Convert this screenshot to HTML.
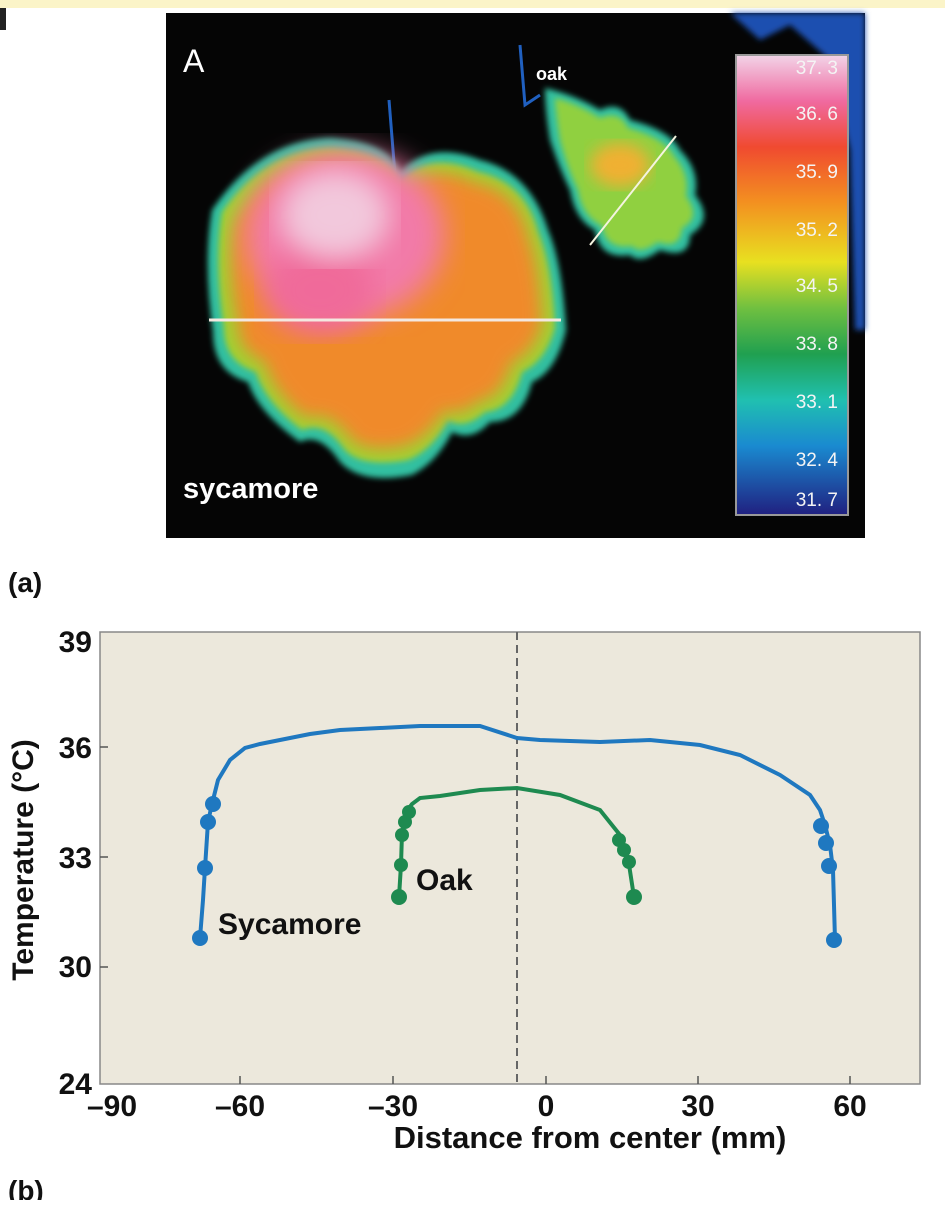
<!DOCTYPE html>
<html><head><style>
body{margin:0;width:945px;height:1200px;background:#fff;overflow:hidden;font-family:"Liberation Sans",Arial,sans-serif;}
</style></head><body>
<svg width="945" height="1200" viewBox="0 0 945 1200" xmlns="http://www.w3.org/2000/svg">
<defs>
<filter id="b3"><feGaussianBlur stdDeviation="3"/></filter>
<filter id="b8"><feGaussianBlur stdDeviation="8"/></filter>
<filter id="b14"><feGaussianBlur stdDeviation="14"/></filter>
<linearGradient id="cb" x1="0" y1="0" x2="0" y2="1">
<stop offset="0" stop-color="#f2d4e8"/><stop offset="0.1" stop-color="#f06aa0"/><stop offset="0.2" stop-color="#f04a30"/>
<stop offset="0.32" stop-color="#f39020"/><stop offset="0.45" stop-color="#e8e020"/><stop offset="0.55" stop-color="#70c040"/>
<stop offset="0.65" stop-color="#20a050"/><stop offset="0.75" stop-color="#20c0b0"/><stop offset="0.85" stop-color="#1a8ad0"/>
<stop offset="1" stop-color="#202080"/></linearGradient>
</defs>
<rect x="0" y="0" width="945" height="8" fill="#fbf4c8"/>
<rect x="0" y="8" width="6" height="22" fill="#222"/>
<rect x="166" y="13" width="699" height="525" fill="#050505"/>
<path d="M865 13 L730 13 L760 40 L790 25 L830 60 L850 150 L855 330 L865 330Z" fill="#1a50b0" filter="url(#b3)"/>
<line x1="389" y1="100" x2="395" y2="175" stroke="#2060c0" stroke-width="3"/>
<path d="M520 45 L525 105 L540 95" stroke="#2060c0" stroke-width="3" fill="none"/>
<g>
<path d="M212 210 Q260 140 330 138 Q390 142 400 172 Q430 140 480 160 Q530 172 548 230 Q562 262 566 330 Q556 372 532 382 Q522 422 490 422 Q472 442 452 432 Q437 462 412 475 Q362 485 340 462 Q320 432 300 442 Q258 412 248 382 Q213 372 213 332 Q203 262 212 210Z" fill="#30c0a0" filter="url(#b3)"/>
<path d="M222 212 Q265 150 330 148 Q390 152 400 182 Q430 150 478 172 Q525 182 538 232 Q552 265 555 328 Q545 362 522 372 Q512 410 485 412 Q465 430 448 420 Q432 450 408 460 Q362 468 345 450 Q325 420 302 430 Q265 402 256 372 Q224 362 224 328 Q214 262 222 212Z" fill="#a0d030" filter="url(#b3)"/>
<path d="M235 222 Q270 160 330 158 Q390 162 400 192 Q430 160 474 182 Q518 190 528 236 Q540 268 542 325 Q532 355 512 362 Q500 400 480 400 Q460 418 445 410 Q428 438 405 446 Q365 454 350 438 Q330 410 306 418 Q272 392 265 362 Q238 352 238 325 Q226 264 235 222Z" fill="#f08a2a" filter="url(#b8)"/>
<ellipse cx="345" cy="235" rx="100" ry="85" fill="#f27aa8" filter="url(#b14)"/>
<ellipse cx="320" cy="290" rx="55" ry="45" fill="#f06a9a" filter="url(#b14)"/>
<ellipse cx="335" cy="215" rx="55" ry="45" fill="#f2c8dc" filter="url(#b14)"/>
</g>
<g>
<path d="M545 88 Q575 95 600 110 Q620 100 630 120 Q670 130 680 150 Q700 170 695 195 Q715 220 690 235 Q690 260 660 250 Q640 265 630 255 Q600 260 595 230 Q575 220 570 190 Q560 170 550 140 Q545 110 545 88Z" fill="#30c0a0" filter="url(#b3)"/>
<path d="M555 98 Q578 104 600 118 Q620 110 628 128 Q665 138 674 156 Q690 174 686 196 Q702 218 682 228 Q680 250 658 242 Q640 255 632 246 Q606 250 602 226 Q582 216 578 190 Q568 170 560 140 Q556 115 555 98Z" fill="#90d040" filter="url(#b3)"/>
<ellipse cx="620" cy="165" rx="30" ry="22" fill="#f0b030" filter="url(#b8)"/>
</g>
<line x1="209" y1="320" x2="561" y2="320" stroke="#f4e8e0" stroke-width="3"/>
<line x1="590" y1="245" x2="676" y2="136" stroke="#f4f4e0" stroke-width="2"/>
<text x="183" y="72" fill="#fff" font-size="32">A</text>
<text x="536" y="80" fill="#fff" font-size="18" font-weight="bold">oak</text>
<text x="183" y="498" fill="#fff" font-size="29" font-weight="bold">sycamore</text>
<rect x="736" y="55" width="112" height="460" fill="url(#cb)" stroke="#999" stroke-width="2"/>
<g fill="#f4f4f4" font-size="19" text-anchor="end">
<text x="838" y="74">37. 3</text><text x="838" y="120">36. 6</text><text x="838" y="178">35. 9</text>
<text x="838" y="236">35. 2</text><text x="838" y="292">34. 5</text><text x="838" y="350">33. 8</text>
<text x="838" y="408">33. 1</text><text x="838" y="466">32. 4</text><text x="838" y="506">31. 7</text>
</g>
<text x="8" y="592" font-size="28" font-weight="bold" fill="#111">(a)</text>
<rect x="100" y="632" width="820" height="452" fill="#ece8dc" stroke="#888" stroke-width="1.5"/>
<line x1="517" y1="632" x2="517" y2="1084" stroke="#666" stroke-width="2" stroke-dasharray="8,5"/>
<g font-size="30" font-weight="bold" fill="#111" text-anchor="end">
<text x="92" y="652">39</text><text x="92" y="758">36</text><text x="92" y="868">33</text><text x="92" y="977">30</text><text x="92" y="1094">24</text>
</g>
<g stroke="#555" stroke-width="1.5">
<line x1="100" y1="747" x2="108" y2="747"/><line x1="100" y1="857" x2="108" y2="857"/><line x1="100" y1="967" x2="108" y2="967"/>
<line x1="240" y1="1084" x2="240" y2="1076"/><line x1="393" y1="1084" x2="393" y2="1076"/><line x1="546" y1="1084" x2="546" y2="1076"/><line x1="698" y1="1084" x2="698" y2="1076"/><line x1="850" y1="1084" x2="850" y2="1076"/>
</g>
<g font-size="30" font-weight="bold" fill="#111" text-anchor="middle">
<text x="112" y="1116">–90</text><text x="240" y="1116">–60</text><text x="393" y="1116">–30</text><text x="546" y="1116">0</text><text x="698" y="1116">30</text><text x="850" y="1116">60</text>
</g>
<text x="590" y="1148" font-size="31" font-weight="bold" fill="#111" text-anchor="middle">Distance from center (mm)</text>
<text transform="translate(33,860) rotate(-90)" font-size="30" font-weight="bold" fill="#111" text-anchor="middle">Temperature (°C)</text>
<text x="8" y="1200" font-size="28" font-weight="bold" fill="#111">(b)</text>
<path d="M200 938 L203 900 L205 868 L208 822 L212 804 L218 780 L230 760 L245 748 L260 744 L290 738 L310 734 L340 730 L380 728 L420 726 L480 726 L517 738 L540 740 L600 742 L650 740 L700 745 L740 755 L780 775 L810 795 L820 810 L825 825 L830 845 L833 870 L835 940" fill="none" stroke="#1f78c0" stroke-width="4"/>
<g fill="#1f78c0">
<circle cx="200" cy="938" r="8"/><circle cx="205" cy="868" r="8"/><circle cx="208" cy="822" r="8"/><circle cx="213" cy="804" r="8"/>
<circle cx="821" cy="826" r="8"/><circle cx="826" cy="843" r="8"/><circle cx="829" cy="866" r="8"/><circle cx="834" cy="940" r="8"/>
</g>
<path d="M399 897 L401 865 L402 833 L406 812 L412 804 L420 798 L440 796 L480 790 L517 788 L560 795 L600 810 L620 835 L628 858 L634 897" fill="none" stroke="#1e8a50" stroke-width="4"/>
<g fill="#1e8a50">
<circle cx="399" cy="897" r="8"/><circle cx="401" cy="865" r="7"/><circle cx="402" cy="835" r="7"/><circle cx="405" cy="822" r="7"/><circle cx="409" cy="812" r="7"/>
<circle cx="619" cy="840" r="7"/><circle cx="624" cy="850" r="7"/><circle cx="629" cy="862" r="7"/><circle cx="634" cy="897" r="8"/>
</g>
<text x="416" y="890" font-size="30" font-weight="bold" fill="#111">Oak</text>
<text x="218" y="934" font-size="30" font-weight="bold" fill="#111">Sycamore</text>
</svg>
</body></html>
